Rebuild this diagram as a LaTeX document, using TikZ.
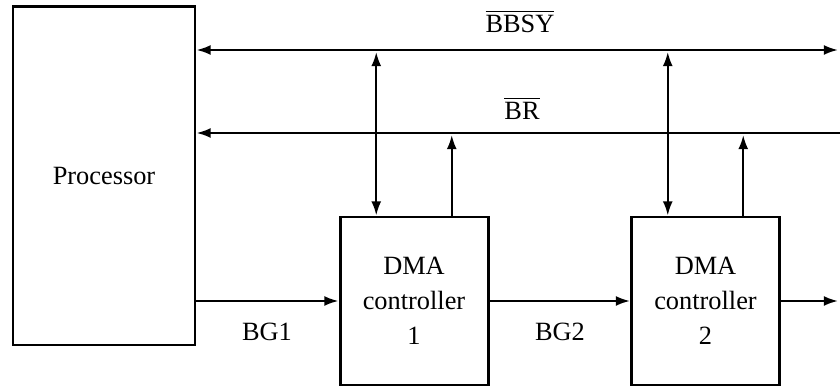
\documentclass[tikz,border=0pt]{standalone}
\usepackage{amsmath}
\usepackage{fontspec}
\setmainfont{Liberation Serif}
\usetikzlibrary{arrows.meta,positioning,calc}

\newlength{\pxu}
\setlength{\pxu}{0.2mm}
\tikzset{
  blk/.style={draw,line width=1.7pt,minimum width=148\pxu,minimum height=168\pxu,
    align=center,inner sep=0pt,font=\fontsize{15}{20}\selectfont},
  sig/.style={line width=1.2pt},
  lbl/.style={font=\fontsize{15}{20}\selectfont,inner sep=0pt}
}

\begin{document}
\begin{tikzpicture}[x=0.2mm,y=0.2mm,>={Latex[length=8pt,width=5.6pt]}]
  \useasboundingbox (0,0) rectangle (840,389);
  \node[blk,minimum width=182\pxu,minimum height=338\pxu] (proc) at (104,213) {Processor};
  \node[blk] (d1) at (414,88) {DMA\\controller\\1};
  \node[blk] (d2) at (705.5,88) {DMA\\controller\\2};
  \coordinate (bbsyR) at (838,339);
  \coordinate (brR) at (840,256);
  \coordinate (outR) at (838,88);
  % bus lines
  \draw[sig,<->] (proc.east |- bbsyR) -- (bbsyR);
  \draw[sig,<-] (proc.east |- brR) -- (brR);
  \node[lbl] (bbsy) at (520,368) {$\overline{\text{BBSY}}$};
  \node[lbl] (br) at (522,281) {$\overline{\text{BR}}$};
  % controllers to the bus
  \foreach \d in {d1,d2} {
    \coordinate (\d a) at ($(\d.north west)!.25!(\d.north east)$);
    \coordinate (\d b) at ($(\d.north west)!.75!(\d.north east)$);
    \draw[sig,<->] (\d a) -- ($(\d a |- bbsyR)+(0,-2)$);
    \draw[sig,->] (\d b) -- ($(\d b |- brR)+(0,-2)$);
  }
  % grant chain
  \draw[sig,->] (proc.east |- d1.west) -- (d1.west);
  \draw[sig,->] (d1.east) -- (d2.west);
  \draw[sig,->] (d2.east) -- (outR);
  \node[lbl] (bg1) at (267,57) {BG1};
  \node[lbl] (bg2) at (560,57) {BG2};
\end{tikzpicture}
\end{document}
